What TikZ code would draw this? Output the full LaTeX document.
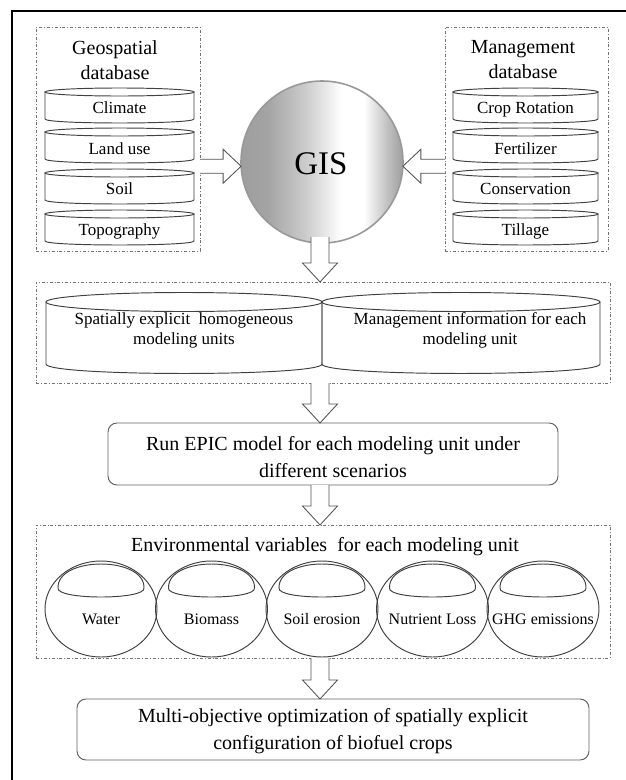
\documentclass[tikz,border=0pt]{standalone}
\usepackage{fontspec}
\setmainfont{Liberation Serif}
\usetikzlibrary{calc}
\pgfdeclarehorizontalshading{gisshade}{100bp}{color(0bp)=(black!38); color(25bp)=(black!38); color(33bp)=(black!36); color(45bp)=(black!20); color(56bp)=(white); color(63bp)=(white); color(70bp)=(black!24); color(75bp)=(black!38); color(100bp)=(black!38)}
\newcommand{\myfs}[2]{\fontsize{#1}{#2}\selectfont}
\tikzset{
  frameline/.style={line width=2.2pt, black},
  dbox/.style={draw=black!55, line width=0.7pt, dash pattern=on 3pt off 2pt on 0.8pt off 2pt},
  cyl/.style={draw=black!75, line width=0.95pt},
  blk/.style={draw=black!68, fill=white, line width=0.85pt, line join=miter},
  rbox/.style={draw=black!62, line width=0.95pt, rounded corners=9pt},
  lbl/.style={text=black, font=\myfs{17}{20}, align=center, text height=12pt, text depth=3.5pt},
  ttl/.style={text=black, font=\myfs{20}{25}, align=center},
  big/.style={text=black, font=\myfs{20}{27}, align=center},
  cl/.style={text=black, font=\myfs{16}{18}, text height=11pt, text depth=3pt}
}
\newcommand{\drum}[5]{%
  \draw[cyl] (#1,#3) -- (#1,#4) .. controls (#1,#4+1.33*#5) and (#2,#4+1.33*#5) .. (#2,#4) -- (#2,#3);
  \draw[cyl] ({(#1+#2)/2},#3) ellipse[x radius={(#2-#1)/2}, y radius=#5];
}
\newcommand{\capshape}[2]{%
  \draw[cyl] (#1-43,#2-21) .. controls (#1-44,#2-53) and (#1+44,#2-53) .. (#1+43,#2-21)
    .. controls (#1+45,#2-9) and (#1-45,#2-9) .. cycle;
}
\newcommand{\dnarrow}[2]{%
  \draw[blk] ($(#1)+(-9,0)$) -- ($(#2)+(-9,-19)$) -- ($(#2)+(-17.5,-19)$) -- (#2)
    -- ($(#2)+(17.5,-19)$) -- ($(#2)+(9,-19)$) -- ($(#1)+(9,0)$);
}
\begin{document}
\begin{tikzpicture}[x=1pt,y=-1pt, every node/.style={inner sep=0pt, outer sep=0pt}]
\useasboundingbox (0,0) rectangle (626,780);
\fill[white] (0,0) rectangle (626,780);
\draw[frameline] (12,780) -- (12,11) -- (626,11);

% dashed group boxes
\node[dbox, minimum width=164, minimum height=224] (geo) at (118,139) {};
\node[dbox, minimum width=163, minimum height=224] (mgmt) at (526.5,139) {};
\node[dbox, minimum width=574, minimum height=101] (mid) at (323,332.5) {};
\node[dbox, minimum width=574, minimum height=133] (env) at (323,591.5) {};

% titles
\node[ttl] (geot) at (115,60) {Geospatial\\database};
\node[ttl] (mgmtt) at (523,60) {Management\\database};

% geospatial cylinders
\drum{45}{194}{92}{119}{4}
\drum{45}{194}{132}{159}{4}
\drum{45}{194}{173}{200}{4}
\drum{45}{194}{214}{241}{4}
\node[lbl] (clim) at (119.5,109) {Climate};
\node[lbl] (land) at (119.5,150) {Land use};
\node[lbl] (soil) at (119.5,190) {Soil};
\node[lbl] (topo) at (119.5,231) {Topography};

% management cylinders
\drum{453}{598}{92}{119}{4}
\drum{453}{598}{132}{159}{4}
\drum{453}{598}{173}{200}{4}
\drum{453}{598}{214}{241}{4}
\node[lbl] (crop) at (525.5,109) {Crop Rotation};
\node[lbl] (fert) at (525.5,150) {Fertilizer};
\node[lbl] (cons) at (525.5,190) {Conservation};
\node[lbl] (till) at (525.5,231) {Tillage};

% down arrow axis
\coordinate (ax) at (320,0);

% GIS
\node[circle, minimum size=162, shading=gisshade, draw=black!40, line width=1.6pt] (gis) at (322,162) {};
\node[font=\myfs{33}{33}, text=black] (gist) at (321,164) {GIS};

% horizontal block arrows
\coordinate (la0) at (geo.east |- gis.183);
\coordinate (la1) at (gis.183);
\draw[blk] ($(la0)+(0,-7)$) -- ($(la1)+(-18,-7)$) -- ($(la1)+(-18,-17)$) -- (la1)
  -- ($(la1)+(-18,17)$) -- ($(la1)+(-18,7)$) -- ($(la0)+(0,7)$);
\coordinate (ra0) at (mgmt.west |- gis.357);
\coordinate (ra1) at (gis.357);
\draw[blk] ($(ra0)+(0,-7)$) -- ($(ra1)+(18,-7)$) -- ($(ra1)+(18,-17)$) -- (ra1)
  -- ($(ra1)+(18,17)$) -- ($(ra1)+(18,7)$) -- ($(ra0)+(0,7)$);

% middle cylinders
\drum{46}{322}{302}{364}{9.5}
\drum{322}{600}{302}{364}{9.5}
\node[lbl] (spat) at (184,340) {Spatially explicit\ \ homogeneous\\modeling units};
\node[lbl] (mginf) at (470,340) {Management information for each\\modeling unit};

% EPIC box
\node[rbox, minimum width=450, minimum height=62] (epic) at (333,454) {};
\node[big] (epict) at (333,457) {Run EPIC model for each modeling unit under\\different scenarios};

% environmental variables
\node[ttl] (envt) at (325,547) {Environmental variables\ \ for each modeling unit};
\foreach \cx/\nm/\tx in {101/water/Water, 211.5/biom/Biomass, 322/eros/Soil erosion, 432.5/nutr/Nutrient Loss, 543/ghg/GHG emissions}{
  \draw[cyl] (\cx,609) ellipse[x radius=56, y radius=48];
  \capshape{\cx}{609}
  \node[cl] (\nm) at (\cx,620) {\tx};
}

% final box
\node[rbox, minimum width=512, minimum height=61] (final) at (333,729.5) {};
\node[big] (finalt) at (333,731.5) {Multi-objective optimization of spatially explicit\\configuration of biofuel crops};

% down arrows
\coordinate (d1a) at ($(ax |- gis.south)+(0,-6)$);
\coordinate (d1b) at (ax |- mid.north);
\coordinate (d2a) at (ax |- mid.south);
\coordinate (d2b) at (ax |- epic.north);
\coordinate (d3a) at (ax |- epic.south);
\coordinate (d3b) at (ax |- env.north);
\coordinate (d4a) at (ax |- env.south);
\coordinate (d4b) at (ax |- final.north);
\dnarrow{d1a}{d1b}
\dnarrow{d2a}{d2b}
\dnarrow{d3a}{d3b}
\dnarrow{d4a}{d4b}
\end{tikzpicture}
\end{document}
